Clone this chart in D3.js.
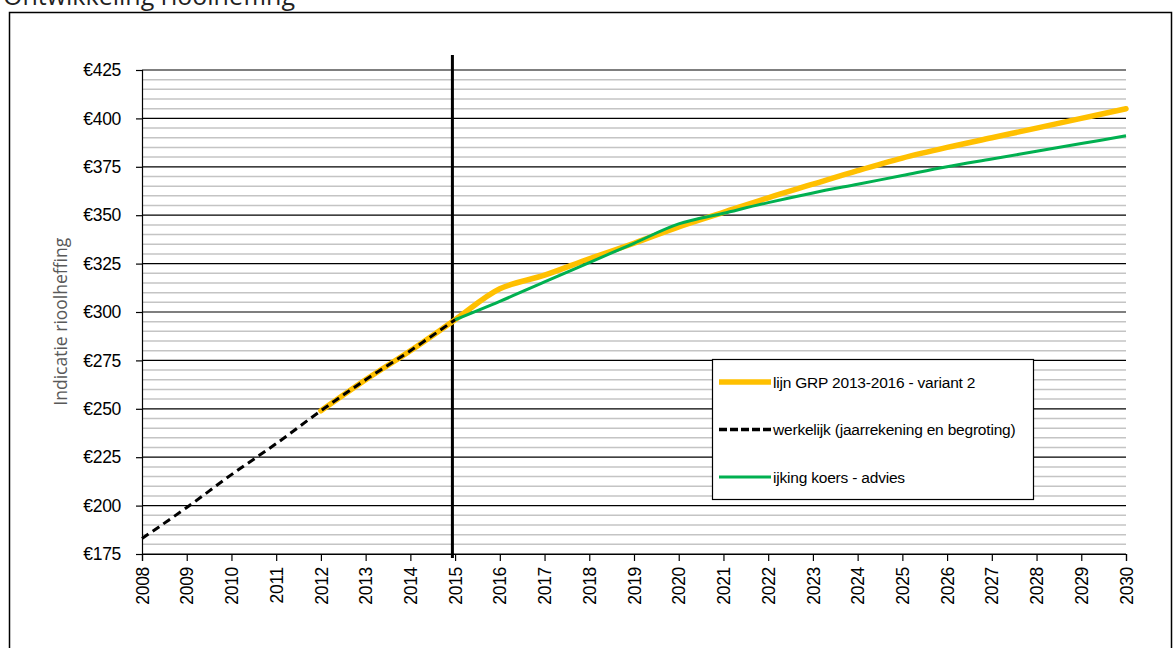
<!DOCTYPE html>
<html>
<head>
<meta charset="utf-8">
<script src="https://cdn.jsdelivr.net/npm/d3@7"></script>
<style>
  body { margin: 0; background: #fff; }
  svg { display: block; }
  .tick text { font-family: "Liberation Sans", Arial, sans-serif; font-size: 17.5px; fill: #000; letter-spacing: -0.3px; }
  .legend-text { font-family: "Liberation Sans", Arial, sans-serif; font-size: 15.5px; fill: #000; letter-spacing: -0.2px; }
</style>
</head>
<body>
<svg id="chart" width="1174" height="648"></svg>
<script>
// data
const years = d3.range(2008, 2031);
const actualYears = [2008, 2009, 2010, 2011, 2012, 2013, 2014, 2015];
const actualValues = [183, 199, 216, 232, 249, 265, 280, 296];
const grpYears = [2012, 2013, 2014, 2015, 2016, 2017, 2018, 2019, 2020, 2021, 2022, 2023, 2024, 2025, 2026, 2027, 2028, 2029, 2030];
const grpValues = [249, 265, 280, 296, 312, 319, 327.5, 335.5, 344, 351.5, 359, 366, 373, 379.5, 385, 390, 395, 400, 405];
const adviesYears = [2015, 2016, 2017, 2018, 2019, 2020, 2021, 2022, 2023, 2024, 2025, 2026, 2027, 2028, 2029, 2030];
const adviesValues = [296, 305.5, 315.5, 325.5, 335.5, 345.5, 351, 356.5, 361.5, 366, 370.5, 375, 379, 383, 387, 391];
const yTicks = [175, 200, 225, 250, 275, 300, 325, 350, 375, 400, 425];
const markerYear = 2014.94;
const legendLabels = ["lijn GRP 2013-2016 - variant 2", "werkelijk (jaarrekening en begroting)", "ijking koers - advies"];

const svg = d3.select("#chart");
const margin = { left: 142, right: 48, top: 70, bottom: 94 };
const width = 1174, height = 648;

// frame + title (title is cut off at the top)
svg.append("rect")
  .attr("x", 9.5).attr("y", 12.5)
  .attr("width", 1162).attr("height", 660)
  .attr("fill", "none").attr("stroke", "#000").attr("stroke-width", 1.5);
svg.append("text")
  .attr("x", 3).attr("y", 5)
  .style("font-family", "'Open Sans', sans-serif")
  .style("font-size", "25px")
  .attr("fill", "#222")
  .text("Ontwikkeling rioolheffing");

const x = d3.scaleLinear().domain([2008, 2030]).range([margin.left, width - margin.right]);
const y = d3.scaleLinear().domain([175, 425]).range([height - margin.bottom, margin.top]);

// minor grid every 5
const minor = d3.range(180, 425, 5).filter((v) => v % 25 !== 0);
svg.append("g")
  .selectAll("line")
  .data(minor)
  .enter()
  .append("line")
  .attr("x1", x(2008)).attr("x2", x(2030))
  .attr("y1", (d) => y(d)).attr("y2", (d) => y(d))
  .attr("stroke", "#c4c4c4").attr("stroke-width", 1.5);

// major grid
svg.append("g")
  .selectAll("line")
  .data(yTicks)
  .enter()
  .append("line")
  .attr("x1", x(2008)).attr("x2", x(2030))
  .attr("y1", (d) => y(d)).attr("y2", (d) => y(d))
  .attr("stroke", "#000").attr("stroke-width", 1.2);

// axes
const yAxis = svg.append("g")
  .attr("transform", "translate(" + x(2008) + ",0)")
  .call(d3.axisLeft(y).tickValues(yTicks).tickSize(6).tickPadding(15).tickFormat((d) => "€" + d));
yAxis.selectAll("path, line").attr("stroke", "#000").attr("stroke-width", 1.2);

const xAxis = svg.append("g")
  .attr("transform", "translate(0," + y(175) + ")")
  .call(d3.axisBottom(x).tickValues(years).tickSize(7).tickFormat(d3.format("d")));
xAxis.selectAll("path, line").attr("stroke", "#000").attr("stroke-width", 1.2);
xAxis.selectAll("text")
  .attr("transform", "rotate(-90)")
  .attr("text-anchor", "end")
  .attr("x", -13)
  .attr("y", 0)
  .attr("dy", "0.35em");

// y label
svg.append("text")
  .attr("transform", "translate(67," + y(295) + ") rotate(-90)")
  .attr("text-anchor", "middle")
  .style("font-family", "'Open Sans', sans-serif")
  .style("font-size", "17.5px")
  .attr("fill", "#595959")
  .text("Indicatie rioolheffing");

// vertical marker at 2015
svg.append("line")
  .attr("x1", x(markerYear)).attr("x2", x(markerYear))
  .attr("y1", 55).attr("y2", y(175) + 4)
  .attr("stroke", "#000").attr("stroke-width", 3);

// lines
const line = d3.line()
  .x((d) => x(d[0]))
  .y((d) => y(d[1]))
  .curve(d3.curveCatmullRom.alpha(0.5));

svg.append("path")
  .datum(d3.zip(grpYears, grpValues))
  .attr("fill", "none").attr("stroke", "#FFC000").attr("stroke-width", 5.5)
  .attr("stroke-linecap", "round")
  .attr("d", line);
svg.append("path")
  .datum(d3.zip(adviesYears, adviesValues))
  .attr("fill", "none").attr("stroke", "#00B050").attr("stroke-width", 3)
  .attr("d", line);
svg.append("path")
  .datum(d3.zip(actualYears, actualValues))
  .attr("fill", "none").attr("stroke", "#000").attr("stroke-width", 3)
  .attr("stroke-dasharray", "8,5")
  .attr("d", line);

// legend
const legend = svg.append("g").attr("transform", "translate(712,359)");
legend.append("rect")
  .attr("x", 0.5).attr("y", 0.5)
  .attr("width", 321).attr("height", 140)
  .attr("fill", "#fff").attr("stroke", "#000").attr("stroke-width", 1.2);
const legendStyles = [
  { color: "#FFC000", width: 5.5, dash: null },
  { color: "#000", width: 3.5, dash: "8,3" },
  { color: "#00B050", width: 3, dash: null },
];
legend
  .selectAll("line.sample")
  .data(legendStyles)
  .enter()
  .append("line")
  .attr("class", "sample")
  .attr("x1", 7).attr("x2", 59)
  .attr("y1", (d, i) => 23 + i * 47.5).attr("y2", (d, i) => 23 + i * 47.5)
  .attr("stroke", (d) => d.color)
  .attr("stroke-width", (d) => d.width)
  .attr("stroke-dasharray", (d) => d.dash);
legend
  .selectAll("text")
  .data(legendLabels)
  .enter()
  .append("text")
  .attr("class", "legend-text")
  .attr("x", 61)
  .attr("y", (d, i) => 28.5 + i * 47.5)
  .text((d) => d);
</script>
</body>
</html>
